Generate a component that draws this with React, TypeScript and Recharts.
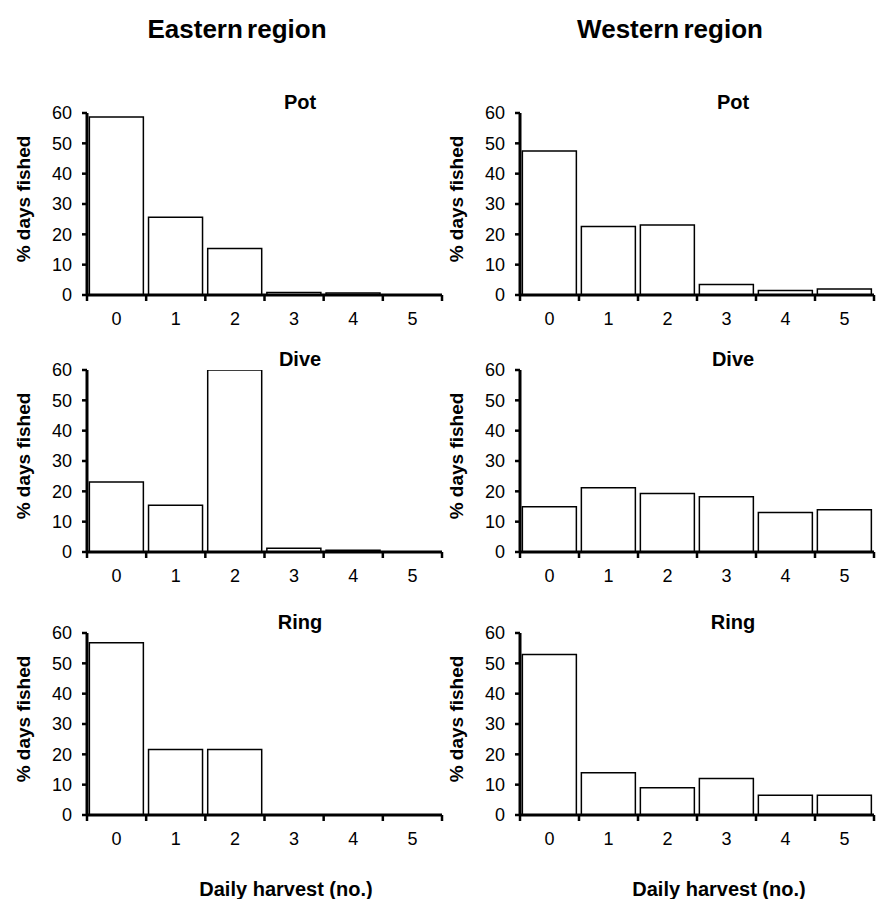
import React from 'react';
import { BarChart, Bar, XAxis, YAxis } from 'recharts';

const FONT = '"Liberation Sans", Arial, sans-serif';

// daily harvest categories
const harvest = ['0', '1', '2', '3', '4', '5'];
const yTicks = [0, 10, 20, 30, 40, 50, 60];

// % days fished, eastern region
const eastPot = [58.7, 25.6, 15.3, 0.8, 0.7, 0];
const eastDive = [23.1, 15.4, 60, 1.2, 0.6, 0];
const eastRing = [56.8, 21.6, 21.6, 0, 0, 0];

// % days fished, western region
const westPot = [47.5, 22.6, 23.1, 3.5, 1.5, 2.0];
const westDive = [14.9, 21.2, 19.3, 18.2, 13.0, 13.9];
const westRing = [52.9, 13.9, 9.0, 12.0, 6.5, 6.5];

const rowTitles = ['Pot', 'Dive', 'Ring'];
const rowTops = [113, 370, 633];
const PLOT_H = 182;
const Y_AXIS_W = 60;
const MARGIN_TOP = 10;

const columns = [
  { region: 'Eastern region', plotLeft: 87, plotW: 355, rows: [eastPot, eastDive, eastRing] },
  { region: 'Western region', plotLeft: 520, plotW: 354, rows: [westPot, westDive, westRing] },
];

// tick marks sit on the category boundaries, labels in the middle
const XTick = (props: any) => {
  const { x, y, payload, index, step, count } = props;
  const left = x - step / 2;
  return (
    <g>
      <line x1={left} x2={left} y1={y} y2={y + 6} stroke="#000" strokeWidth={2.5} />
      {index === count - 1 && (
        <line x1={x + step / 2} x2={x + step / 2} y1={y} y2={y + 6} stroke="#000" strokeWidth={2.5} />
      )}
      <text x={x} y={y + 30} textAnchor="middle" fill="#000" fontSize={18} fontFamily={FONT}>
        {payload.value}
      </text>
    </g>
  );
};

function Panel({ plotLeft, plotW, top, values }: { plotLeft: number; plotW: number; top: number; values: number[] }) {
  const data = harvest.map((h, i) => ({ harvest: h, pct: values[i] }));
  const width = Y_AXIS_W + plotW + 2;
  const height = MARGIN_TOP + PLOT_H + 40;
  return (
    <div style={{ position: 'absolute', left: plotLeft - Y_AXIS_W, top: top - MARGIN_TOP }}>
      <BarChart
        width={width}
        height={height}
        data={data}
        margin={{ top: MARGIN_TOP, right: 2, bottom: 0, left: 0 }}
        barCategoryGap="4%"
      >
        <XAxis
          dataKey="harvest"
          height={40}
          interval={0}
          tickSize={0}
          tickMargin={0}
          tickLine={false}
          stroke="#000"
          axisLine={{ stroke: '#000', strokeWidth: 3 }}
          tick={(p: any) => <XTick {...p} step={plotW / harvest.length} count={harvest.length} />}
        />
        <YAxis
          width={Y_AXIS_W}
          domain={[0, 60]}
          ticks={yTicks}
          interval={0}
          allowDataOverflow
          stroke="#000"
          axisLine={{ stroke: '#000', strokeWidth: 3 }}
          tickLine={{ stroke: '#000', strokeWidth: 2.5 }}
          tickSize={5}
          tickMargin={10}
          tick={{ fill: '#000', fontSize: 18, fontFamily: FONT }}
        />
        <Bar dataKey="pct" fill="#fff" stroke="#000" strokeWidth={1.5} isAnimationActive={false} />
      </BarChart>
    </div>
  );
}

const textStyle = (x: number, y: number, size: number, extra: React.CSSProperties = {}): React.CSSProperties => ({
  position: 'absolute',
  left: x,
  top: y,
  transform: 'translate(-50%, -50%)',
  fontFamily: FONT,
  fontWeight: 'bold',
  fontSize: size,
  color: '#000',
  whiteSpace: 'nowrap',
  lineHeight: 1,
  ...extra,
});

export default function App() {
  return (
    <div style={{ position: 'absolute', left: 0, top: 0, width: 876, height: 899, background: '#fff', overflow: 'hidden' }}>
      {columns.map((col) => (
        <React.Fragment key={col.region}>
          <div style={textStyle(col.plotLeft + 150, 29, 26, { wordSpacing: -3 })}>{col.region}</div>
          {col.rows.map((vals, r) => (
            <React.Fragment key={rowTitles[r]}>
              <div style={textStyle(col.plotLeft + 213, rowTops[r] - 11, 20)}>{rowTitles[r]}</div>
              <div style={textStyle(col.plotLeft - 64, rowTops[r] + 86, 19, { transform: 'translate(-50%, -50%) rotate(-90deg)' })}>
                % days fished
              </div>
              <Panel plotLeft={col.plotLeft} plotW={col.plotW} top={rowTops[r]} values={vals} />
            </React.Fragment>
          ))}
          <div style={textStyle(col.plotLeft + 199, 889, 20)}>Daily harvest (no.)</div>
        </React.Fragment>
      ))}
    </div>
  );
}
